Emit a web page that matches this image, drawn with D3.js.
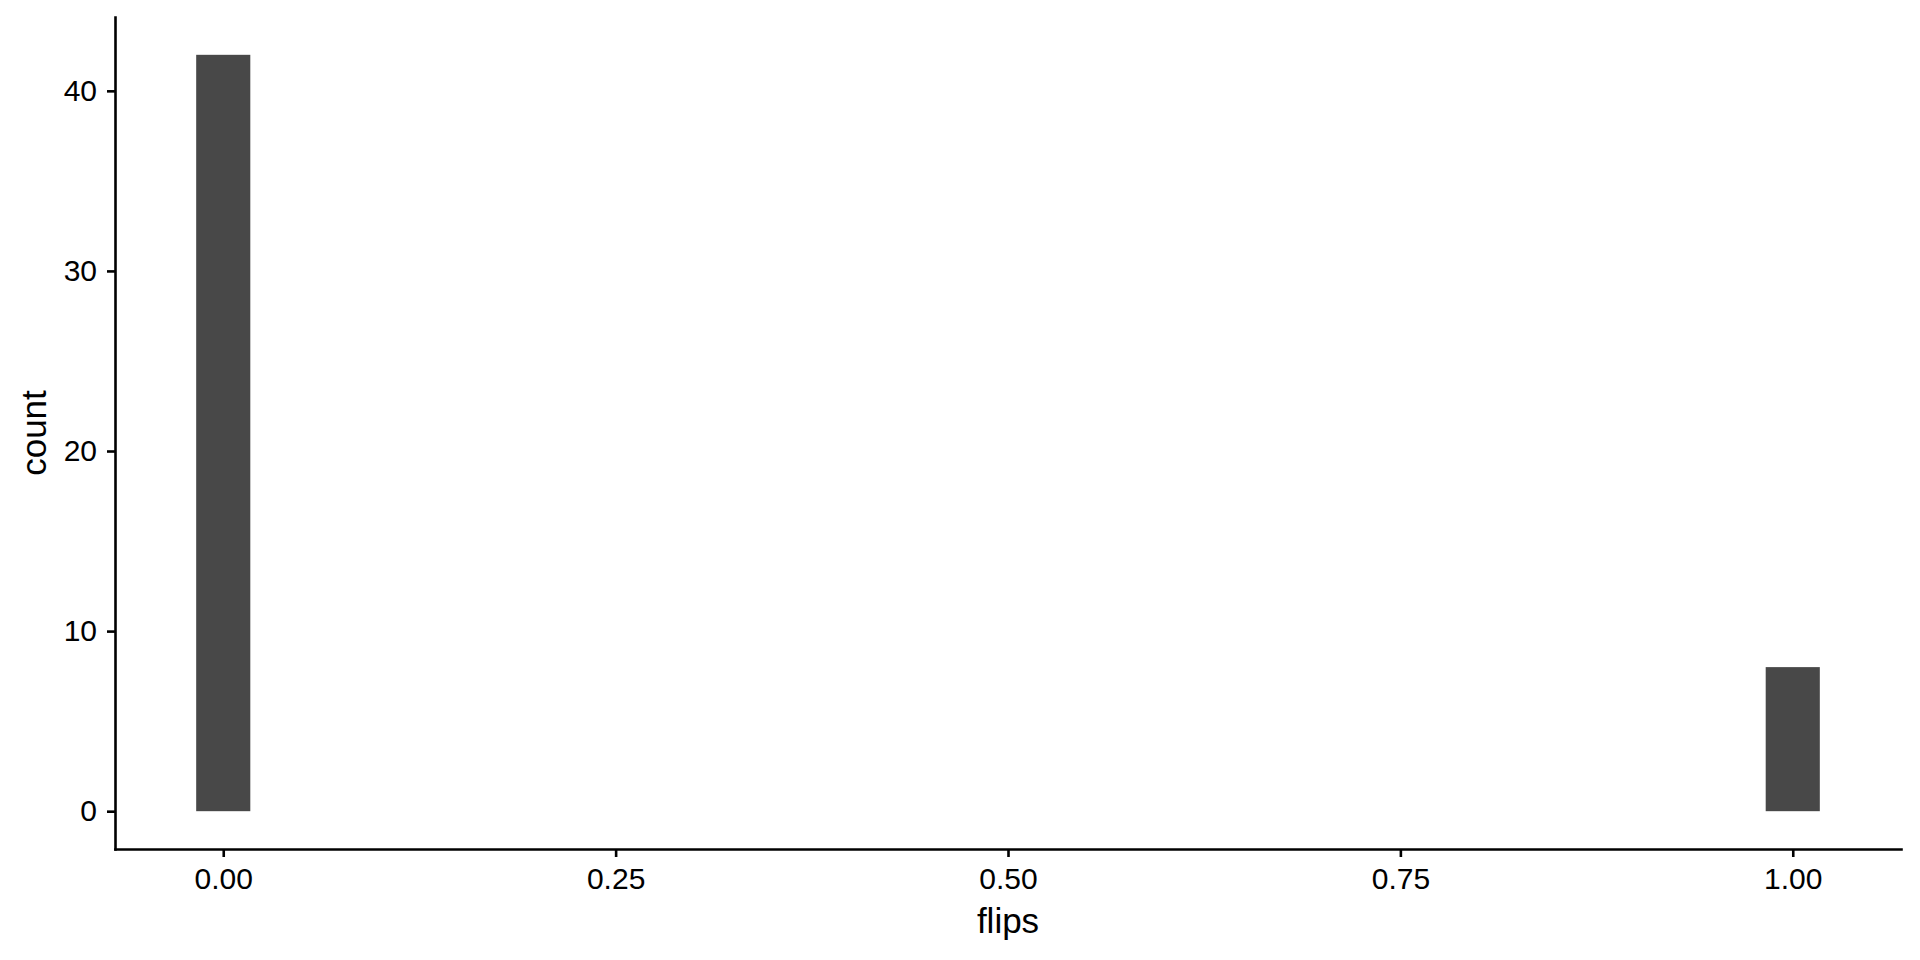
<!DOCTYPE html>
<html>
<head>
<meta charset="utf-8">
<script src="https://cdn.jsdelivr.net/npm/d3@7"></script>
<style>
  html, body { margin: 0; padding: 0; background: #ffffff; }
  svg { display: block; }
  text { font-family: "Liberation Sans", Arial, Helvetica, sans-serif; }
</style>
</head>
<body>
<svg id="chart" width="1920" height="960"></svg>
<script>
// ---- data ----
const flipValues = [0, 1];
const counts = [42, 8];
const binCount = 30;            // histogram default bins
const xTicks = [0, 0.25, 0.5, 0.75, 1];
const yTicks = [0, 10, 20, 30, 40];
const xTitle = "flips";
const yTitle = "count";

// ---- layout ----
const W = 1920, H = 960;
const panel = { left: 115, right: 1901, top: 17, bottom: 849 };

const binWidth = (d3.max(flipValues) - d3.min(flipValues)) / (binCount - 1);
const xMin = d3.min(flipValues) - binWidth / 2;
const xMax = d3.max(flipValues) + binWidth / 2;
const xPad = (xMax - xMin) * 0.05;
const yMaxV = d3.max(counts);
const yPad = yMaxV * 0.05;

const x = d3.scaleLinear().domain([xMin - xPad, xMax + xPad]).range([panel.left, panel.right]);
const y = d3.scaleLinear().domain([0 - yPad, yMaxV + yPad]).range([panel.bottom, panel.top]);

const svg = d3.select("#chart");

const bars = flipValues.map((v, i) => ({ v, c: counts[i] }));

svg.append("g").selectAll("rect").data(bars).enter().append("rect")
  .attr("x", d => x(d.v - binWidth / 2))
  .attr("width", d => x(d.v + binWidth / 2) - x(d.v - binWidth / 2))
  .attr("y", d => y(d.c))
  .attr("height", d => y(0) - y(d.c))
  .attr("fill", "#484848");

// axes
const xAxis = d3.axisBottom(x).tickValues(xTicks).tickFormat(d3.format(".2f"))
  .tickSizeInner(8).tickSizeOuter(0).tickPadding(11);
const yAxis = d3.axisLeft(y).tickValues(yTicks).tickFormat(d3.format("d"))
  .tickSizeInner(8).tickSizeOuter(0).tickPadding(10);

const gx = svg.append("g").attr("transform", `translate(0,${panel.bottom})`).call(xAxis);
const gy = svg.append("g").attr("transform", `translate(${panel.left},0)`).call(yAxis);

[gx, gy].forEach(g => {
  g.select(".domain").attr("stroke", "#000").attr("stroke-width", 2.6).attr("stroke-linecap", "square");
  g.selectAll(".tick line").attr("stroke", "#000").attr("stroke-width", 2.6);
  g.selectAll(".tick text").attr("fill", "#000").style("font-size", "30px")
    .style("font-family", "'Liberation Sans', Arial, sans-serif");
});

// titles
svg.append("text")
  .attr("x", (panel.left + panel.right) / 2)
  .attr("y", 933)
  .attr("text-anchor", "middle")
  .style("font-size", "35px")
  .attr("fill", "#000")
  .text(xTitle);

svg.append("text")
  .attr("transform", `translate(46,${(panel.top + panel.bottom) / 2}) rotate(-90)`)
  .attr("text-anchor", "middle")
  .style("font-size", "35px")
  .attr("fill", "#000")
  .text(yTitle);
</script>
</body>
</html>
